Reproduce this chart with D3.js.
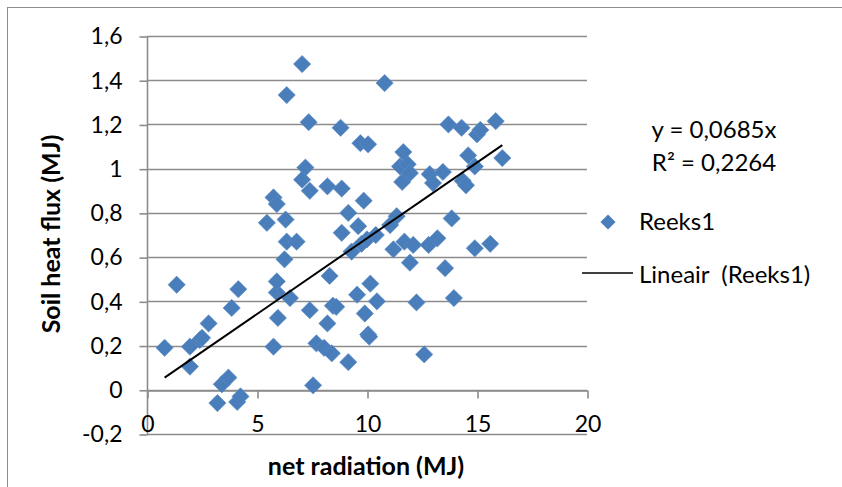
<html>
<head>
  <script src="https://d3js.org/d3.v7.min.js"></script>
  <style>
    body {
      background-color: white;
      margin: 0;
      padding: 0;
      overflow: hidden;
    }
    svg {
      position: absolute;
      left: 0;
      top: 0;
    }
    text {
      font-family: Lato, "Open Sans", sans-serif;
      fill: black;
    }
  </style>
</head>
<body>
  <svg width="842" height="487"></svg>

  <script>
    // net radiation (MJ) vs soil heat flux (MJ)
    const radiation = [
      0.8, 1.35, 1.95, 1.95, 2.4, 2.5, 2.8, 3.85, 4.15, 3.4, 3.7, 3.2, 4.1, 4.25,
      5.75, 5.95, 5.9, 5.9, 6.25, 6.35, 6.8, 6.5, 5.45, 5.75, 5.9, 6.3,
      6.35, 7.05, 7.35, 7.2, 7.05, 7.4, 8.2, 8.85, 8.8, 9.7, 10.05, 10.8,
      9.85, 9.15, 9.6, 8.85, 9.3, 9.75, 10.0, 10.4, 11.05, 11.35, 11.65, 11.5,
      11.85, 11.95, 11.6, 11.2, 11.7, 12.1, 12.8, 11.95, 13.2, 12.85, 13.0, 13.45,
      13.7, 14.3, 15.0, 15.15, 15.85, 14.6, 14.9, 16.15, 14.35, 14.5, 13.85, 14.9,
      15.6, 13.55, 13.95, 12.6, 8.3, 10.15, 9.55, 10.45, 12.25, 7.4, 8.45, 8.6,
      9.9, 8.2, 10.05, 10.1, 7.7, 8.05, 8.4, 9.15, 7.55
    ];
    const heatFlux = [
      0.19, 0.475, 0.195, 0.105, 0.225, 0.235, 0.30, 0.37, 0.455, 0.025, 0.055, -0.06, -0.055, -0.03,
      0.195, 0.325, 0.44, 0.49, 0.59, 0.67, 0.67, 0.415, 0.755, 0.87, 0.84, 0.77,
      1.333, 1.473, 1.21, 1.005, 0.95, 0.90, 0.92, 0.91, 1.185, 1.115, 1.11, 1.387,
      0.855, 0.80, 0.74, 0.71, 0.625, 0.66, 0.68, 0.70, 0.745, 0.785, 1.075, 1.01,
      1.02, 0.98, 0.94, 0.635, 0.67, 0.655, 0.655, 0.575, 0.685, 0.975, 0.935, 0.985,
      1.20, 1.185, 1.155, 1.175, 1.215, 1.06, 1.01, 1.048, 0.945, 0.925, 0.775, 0.64,
      0.66, 0.55, 0.415, 0.16, 0.515, 0.48, 0.43, 0.40, 0.395, 0.36, 0.38, 0.375,
      0.345, 0.30, 0.25, 0.24, 0.21, 0.19, 0.165, 0.125, 0.02
    ];
    const xTicks = [0, 5, 10, 15, 20];
    const yTicks = [-0.2, 0, 0.2, 0.4, 0.6, 0.8, 1, 1.2, 1.4, 1.6];
    const slope = 0.0685;
    const equation = ["y = 0,0685x", "R² = 0,2264"];
    const seriesName = "Reeks1";
    const trendName = "Lineair  (Reeks1)";

    const data = radiation.map((d, i) => ({ x: d, y: heatFlux[i] }));

    const svg = d3.select("svg");
    const fmt = d => String(d).replace(".", ",");

    // outer chart border (only left and top visible)
    svg.append("rect")
      .attr("x", 7.5).attr("y", 7.5)
      .attr("width", 900).attr("height", 600)
      .attr("fill", "none")
      .attr("stroke", "#8e8e8e")
      .attr("stroke-width", 1);

    const xScale = d3.scaleLinear().domain([0, 20]).range([147, 587]);
    const yScale = d3.scaleLinear().domain([-0.2, 1.6]).range([434, 36]);

    // horizontal gridlines
    svg.append("g")
      .selectAll("line")
      .data(yTicks)
      .enter().append("line")
      .attr("x1", xScale(0))
      .attr("x2", xScale(20))
      .attr("y1", d => Math.round(yScale(d)) + 0.5)
      .attr("y2", d => Math.round(yScale(d)) + 0.5)
      .attr("stroke", "#8c8c8c")
      .attr("stroke-width", 1.6);

    // y axis
    const yAxis = svg.append("g")
      .attr("transform", "translate(" + (xScale(0) + 0.5) + ",0.5)")
      .call(d3.axisLeft(yScale).tickValues(yTicks).tickSize(8).tickPadding(17).tickFormat(fmt));

    // x axis at y = 0
    const xAxis = svg.append("g")
      .attr("transform", "translate(0.5," + (Math.round(yScale(0)) + 0.5) + ")")
      .call(d3.axisBottom(xScale).tickValues(xTicks).tickSize(8).tickPadding(17).tickSizeOuter(0));

    [yAxis, xAxis].forEach(a => {
      a.attr("font-family", null).attr("font-size", null);
      a.selectAll("path, line").attr("stroke", "#8c8c8c").attr("stroke-width", 1.6);
      a.selectAll("text").style("font-size", "23px").attr("fill", "black");
    });
    yAxis.select(".domain").attr("d", "M0," + yScale(-0.2) + "V" + yScale(1.6));

    // points
    const diamond = d3.symbol().type(d3.symbolDiamond2).size(190);
    svg.append("g")
      .selectAll("path")
      .data(data)
      .enter().append("path")
      .attr("transform", d => "translate(" + xScale(d.x) + "," + yScale(d.y) + ")")
      .attr("d", diamond)
      .attr("fill", "#4a7ebb")
      .attr("stroke", "#5b8bc6")
      .attr("stroke-width", 0.6);

    // linear trend line
    const xExtent = d3.extent(radiation);
    svg.append("line")
      .attr("x1", xScale(xExtent[0]))
      .attr("y1", yScale(slope * xExtent[0]))
      .attr("x2", xScale(xExtent[1]))
      .attr("y2", yScale(slope * xExtent[1]))
      .attr("stroke", "black")
      .attr("stroke-width", 2);

    // axis titles
    svg.append("text")
      .attr("x", 366)
      .attr("y", 475)
      .attr("text-anchor", "middle")
      .style("font-size", "25px")
      .style("font-weight", "bold")
      .text("net radiation (MJ)");

    svg.append("text")
      .attr("transform", "translate(60,234) rotate(-90)")
      .attr("text-anchor", "middle")
      .style("font-size", "25px")
      .style("font-weight", "bold")
      .text("Soil heat flux (MJ)");

    // equation
    svg.selectAll(".eq")
      .data(equation)
      .enter().append("text")
      .attr("class", "eq")
      .attr("x", 714)
      .attr("y", (d, i) => 138 + i * 33)
      .attr("text-anchor", "middle")
      .style("font-size", "24px")
      .text(d => d);

    // legend
    svg.append("path")
      .attr("transform", "translate(608,222)")
      .attr("d", d3.symbol().type(d3.symbolDiamond2).size(145))
      .attr("fill", "#4a7ebb");
    svg.append("text")
      .attr("x", 639).attr("y", 230)
      .style("font-size", "24px")
      .text(seriesName);
    svg.append("line")
      .attr("x1", 582).attr("x2", 633)
      .attr("y1", 273).attr("y2", 273)
      .attr("stroke", "black")
      .attr("stroke-width", 1.5);
    svg.append("text")
      .attr("x", 639).attr("y", 283)
      .style("font-size", "24px")
      .style("white-space", "pre")
      .text(trendName);
  </script>
</body>
</html>
